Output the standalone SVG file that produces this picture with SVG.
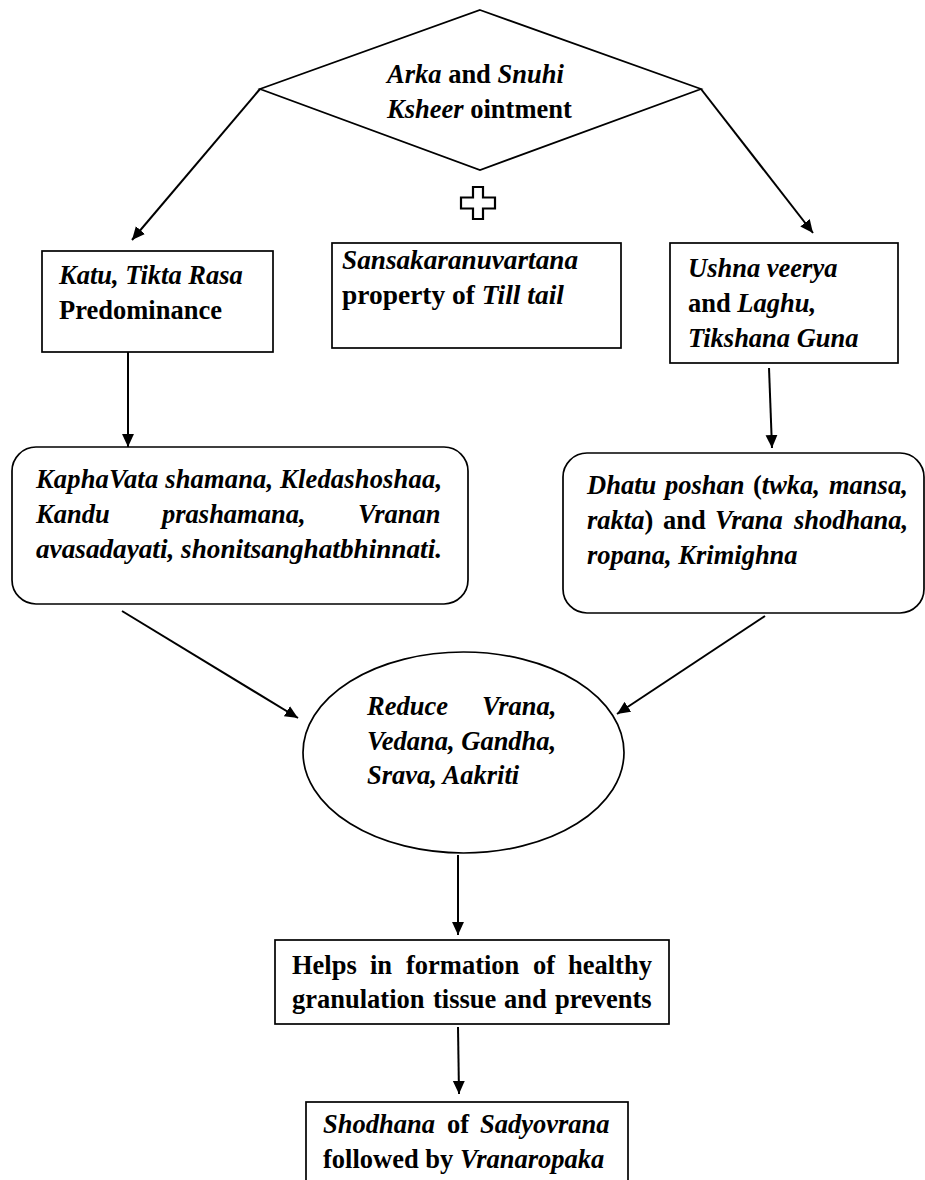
<svg xmlns="http://www.w3.org/2000/svg" width="925" height="1180" viewBox="0 0 925 1180">
<defs>
<style>
.shape{fill:#fff;stroke:#000;stroke-width:1.7}
.conn{fill:none;stroke:#000;stroke-width:2;marker-end:url(#ah)}
.t{font-family:"Liberation Serif","Times New Roman",serif;font-weight:bold;font-size:26.5px;fill:#000}
.i{font-style:italic}
</style>
<marker id="ah" viewBox="0 0 12 12" refX="12" refY="6" markerWidth="13" markerHeight="13" markerUnits="userSpaceOnUse" orient="auto"><path d="M0,0.5 L12,6 L0,11.5 z" fill="#000"/></marker>
</defs>
<rect width="925" height="1180" fill="#fff"/>

<g id="connectors">
<line class="conn" x1="260" y1="89" x2="132" y2="240"/>
<line class="conn" x1="701" y1="89" x2="813" y2="233"/>
<line class="conn" x1="128" y1="352" x2="128" y2="447"/>
<line class="conn" x1="769" y1="368" x2="772" y2="448"/>
<line class="conn" x1="122" y1="611" x2="298" y2="718"/>
<line class="conn" x1="765" y1="616" x2="617" y2="714"/>
<line class="conn" x1="458" y1="855" x2="458" y2="935"/>
<line class="conn" x1="458" y1="1027" x2="459" y2="1094"/>
</g>

<g id="node-ointment">
<polygon class="shape" points="480,10 701,89 480,170 260,89"/>
<text class="t" x="387" y="83"><tspan class="i">Arka</tspan> and <tspan class="i">Snuhi</tspan></text>
<text class="t" x="387" y="118"><tspan class="i">Ksheer</tspan> ointment</text>
</g>

<g id="node-plus">
<polygon fill="#fff" stroke="#000" stroke-width="2.2" points="473,187 483,187 483,197.5 495,197.5 495,208.5 483,208.5 483,219 473,219 473,208.5 461,208.5 461,197.5 473,197.5"/>
</g>

<g id="node-rasa">
<rect class="shape" x="42" y="251" width="231" height="101"/>
<text class="t i" x="59" y="284">Katu, Tikta Rasa</text>
<text class="t" x="59" y="319">Predominance</text>
</g>

<g id="node-tail">
<rect class="shape" x="332" y="243" width="289" height="105"/>
<text class="t i" x="342" y="269" textLength="236" lengthAdjust="spacingAndGlyphs">Sansakaranuvartana</text>
<text class="t" x="342" y="304" textLength="222" lengthAdjust="spacingAndGlyphs">property of <tspan class="i">Till tail</tspan></text>
</g>

<g id="node-guna">
<rect class="shape" x="670" y="243" width="228" height="120"/>
<text class="t i" x="688" y="277">Ushna veerya</text>
<text class="t" x="688" y="312">and <tspan class="i">Laghu,</tspan></text>
<text class="t i" x="688" y="347">Tikshana Guna</text>
</g>

<g id="node-shamana">
<rect class="shape" x="12" y="447" width="456" height="157" rx="24" ry="24"/>
<text class="t i" x="36" y="488" textLength="406" lengthAdjust="spacing">KaphaVata shamana, Kledashoshaa,</text>
<text class="t i" y="523"><tspan x="36">Kandu</tspan><tspan x="162">prashamana,</tspan><tspan x="358">Vranan</tspan></text>
<text class="t i" x="36" y="558" textLength="406" lengthAdjust="spacingAndGlyphs">avasadayati, shonitsanghatbhinnati.</text>
</g>

<g id="node-poshan">
<rect class="shape" x="563" y="453" width="361" height="160" rx="24" ry="24"/>
<text class="t" y="494"><tspan class="i" x="587">Dhatu</tspan><tspan class="i" x="665">poshan</tspan><tspan x="753">(</tspan><tspan class="i">twka,</tspan><tspan class="i" x="829">mansa,</tspan></text>
<text class="t" y="529"><tspan class="i" x="587">rakta</tspan><tspan>)</tspan><tspan x="663">and</tspan><tspan class="i" x="715">Vrana</tspan><tspan class="i" x="794">shodhana,</tspan></text>
<text class="t i" x="587" y="564">ropana, Krimighna</text>
</g>

<g id="node-reduce">
<ellipse class="shape" cx="463.5" cy="752.5" rx="160.5" ry="100.5"/>
<text class="t i" y="715"><tspan x="367">Reduce</tspan><tspan x="482">Vrana,</tspan></text>
<text class="t i" x="367" y="750">Vedana, Gandha,</text>
<text class="t i" x="367" y="784">Srava, Aakriti</text>
</g>

<g id="node-granulation">
<rect class="shape" x="275" y="940" width="394" height="84"/>
<text class="t" y="974"><tspan x="292">Helps</tspan><tspan x="370">in</tspan><tspan x="406">formation</tspan><tspan x="533">of</tspan><tspan x="568">healthy</tspan></text>
<text class="t" y="1008"><tspan x="292">granulation</tspan><tspan x="433">tissue</tspan><tspan x="504">and</tspan><tspan x="555">prevents</tspan></text>
</g>

<g id="node-shodhana">
<rect class="shape" x="306" y="1102" width="322" height="90"/>
<text class="t" y="1133"><tspan class="i" x="323">Shodhana</tspan><tspan x="447">of</tspan><tspan class="i" x="480">Sadyovrana</tspan></text>
<text class="t" x="323" y="1168">followed by <tspan class="i">Vranaropaka</tspan></text>
</g>
</svg>
